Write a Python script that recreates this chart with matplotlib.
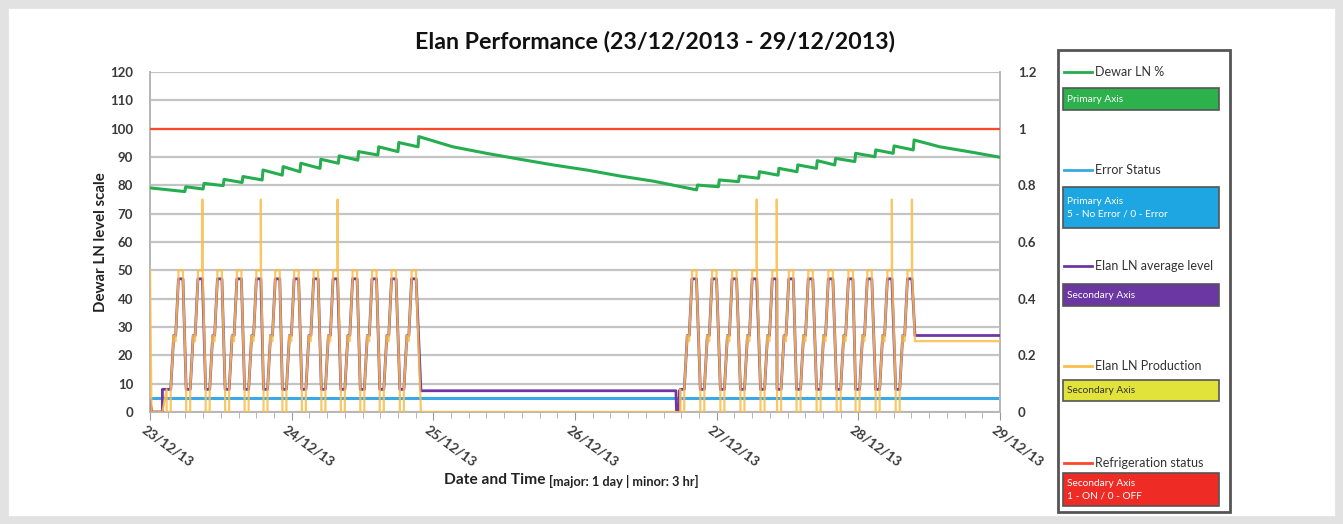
import matplotlib.pyplot as plt
import numpy as np
from matplotlib.patches import Rectangle
from matplotlib.lines import Line2D

W, H = 1343, 524
plt.rcParams['font.family'] = ['Lato', 'DejaVu Sans']

# x axis: hours since 23/12/13 00:00
day_labels = ['23/12/13', '24/12/13', '25/12/13', '26/12/13', '27/12/13', '28/12/13', '29/12/13']

# Elan LN cycles: hour at middle of each high plateau
peak_hours_run1 = [5.2, 8.5, 11.8, 15.1, 18.4, 21.6, 24.8, 28.1, 31.4, 34.7, 38.0, 41.3, 44.7]
peak_hours_run2 = [92.2, 95.6, 99.0, 102.4, 105.8, 108.6, 111.9, 115.3, 118.7, 121.9, 125.3, 128.7]
spike_peaks = [8.5, 18.4, 31.4, 102.4, 105.8, 125.3, 128.7]
avg_levels = [0.08, 0.27, 0.47]     # low, mid, high (secondary axis)
prod_levels = [0.0, 0.25, 0.5]
spike_level = 0.75
idle_avg_level = 0.075
end_avg_level = 0.27
end_prod_level = 0.25

# Dewar LN % sawtooth: jump hours, value before jump, value after jump
jump_h1 = [5.9, 9.0, 12.4, 15.6, 19.0, 22.4, 25.4, 28.8, 31.9, 35.2, 38.6, 42.0, 45.4]
bottom1 = [77.8, 78.7, 79.9, 81.0, 81.9, 83.6, 84.8, 86.0, 87.8, 88.9, 90.7, 91.9, 93.6]
top1 = [79.5, 80.7, 82.1, 83.1, 85.4, 86.6, 87.8, 89.2, 90.4, 91.9, 93.6, 95.1, 97.2]
decline1_h = [51.3, 57.0, 62.7, 68.3, 74.0, 79.6, 85.2]
decline1_v = [93.6, 91.3, 89.2, 87.2, 85.4, 83.3, 81.5]
jump_h2 = [92.6, 96.3, 99.7, 103.1, 106.4, 109.6, 112.9, 116.0, 119.4, 122.8, 125.9, 129.3]
bottom2 = [78.4, 79.5, 81.3, 82.5, 83.6, 84.8, 86.0, 87.2, 88.4, 90.1, 91.3, 92.5]
top2 = [80.1, 81.9, 83.3, 84.8, 86.0, 87.2, 88.7, 89.5, 91.3, 92.5, 93.9, 96.0]
decline2_h = [133.8, 139.5, 144.0]
decline2_v = [93.6, 91.6, 89.9]
dewar_start = 79.1

error_status = 5       # primary axis
refrig_status = 1      # secondary axis

GREEN = '#25ad4f'
BLUE = '#3ba8e8'
PURPLE = '#7035a5'
ORANGE = '#fbbd4a'
RED = '#fb4a2a'
GRID = '#c4c4c4'
TXT = '#3a3a3a'

# plateau offsets (hours) relative to the peak middle
OFF = [(-2.37, -1.69), (-1.18, -0.85), (-0.38, 0.38)]


def build_cycles(peaks):
    at, av, pt, pv = [], [], [], []
    for tp in peaks:
        for (a, b), L, O in zip(OFF, avg_levels, prod_levels):
            at += [tp + a, tp + b]
            av += [L, L]
            pt += [tp + a, tp + a, tp + b, tp + b]
            pv += [L, O, O, L]
            if O == prod_levels[2] and tp in spike_peaks:
                pt[-1:] = [tp + b, tp + b + 0.03, tp + b + 0.06]
                pv[-1:] = [spike_level, prod_levels[2], L]
    return at, av, pt, pv


a1t, a1v, p1t, p1v = build_cycles(peak_hours_run1)
a2t, a2v, p2t, p2v = build_cycles(peak_hours_run2)

avg_t = [0, 0.3, 2.1, 2.1] + a1t + [45.9, 89.1, 89.2, 89.6, 89.7] + a2t + [129.6, 144]
avg_v = [0.04, 0.0, 0.0, 0.08] + a1v + [idle_avg_level, idle_avg_level, 0.0, 0.0, idle_avg_level] + a2v + [end_avg_level, end_avg_level]
prod_t = [0, 0.25, 2.1] + p1t + [45.9, 89.8] + p2t + [129.6, 144]
prod_v = [0.5, 0.0, 0.0] + p1v + [0.0, 0.0] + p2v + [end_prod_level, end_prod_level]

dew_t = [0]
dew_v = [dewar_start]
for h, b, t in zip(jump_h1, bottom1, top1):
    dew_t += [h, h + 0.15]
    dew_v += [b, t]
dew_t += decline1_h
dew_v += decline1_v
for h, b, t in zip(jump_h2, bottom2, top2):
    dew_t += [h, h + 0.15]
    dew_v += [b, t]
dew_t += decline2_h
dew_v += decline2_v

fig = plt.figure(figsize=(W / 100, H / 100), dpi=100)
fig.patch.set_facecolor('white')
fig.add_artist(Rectangle((0, 0), 1, 1, transform=fig.transFigure, fill=False,
                         edgecolor='#e2e2e2', lw=12))

ax = fig.add_axes([150 / W, 1 - 412 / H, 850 / W, 340 / H])
ax2 = ax.twinx()

ax.set_xlim(0, 144)
ax.set_ylim(0, 120)
ax2.set_ylim(0, 1.2)

ax.set_yticks(np.arange(0, 121, 10))
ax.yaxis.grid(True, color=GRID, lw=1.6)
ax.set_axisbelow(True)
ax2.set_yticks(np.arange(0, 1.21, 0.2))
ax2.set_yticklabels(['0', '0.2', '0.4', '0.6', '0.8', '1', '1.2'])

ax.set_xticks(np.arange(0, 145, 24))
ax.set_xticklabels([])
ax.set_xticks(np.arange(0, 145, 3), minor=True)
ax.tick_params(axis='x', which='major', length=6, color='#999999', direction='out')
ax.tick_params(axis='x', which='minor', length=4, color='#aaaaaa', direction='out')
ax.tick_params(axis='y', length=0, pad=12, labelsize=9.5, labelcolor=TXT)
ax2.tick_params(axis='y', length=0, pad=13, labelsize=9.5, labelcolor=TXT)
for lab in ax.get_yticklabels() + ax2.get_yticklabels():
    lab.set_fontweight('bold')

for a in (ax, ax2):
    for s in a.spines.values():
        s.set_color('#b8b8b8')
        s.set_linewidth(1.4)
    a.spines['top'].set_visible(False)

for h, lab in zip(np.arange(0, 145, 24), day_labels):
    ax.text(h - 0.6, -4, lab, rotation=-36, rotation_mode='anchor', ha='left', va='top',
            fontsize=9.8, fontweight='bold', color=TXT, clip_on=False)

ax.plot([0, 144], [error_status, error_status], color=BLUE, lw=2.2, zorder=3)
ax2.plot(avg_t, avg_v, color=PURPLE, lw=2.0, zorder=3)
ax2.plot(prod_t, prod_v, color=ORANGE, lw=1.6, alpha=0.85, zorder=4)
ax2.plot([0, 144], [refrig_status, refrig_status], color=RED, lw=1.6, zorder=4)
ax2.plot(np.array(dew_t), np.array(dew_v) / 100, color=GREEN, lw=2.2, zorder=5)

fig.text(655 / W, 1 - 42 / H, 'Elan Performance (23/12/2013 - 29/12/2013)', ha='center', va='center',
         fontsize=16.7, fontweight='bold', color='#111111')
fig.text(101 / W, 1 - 242 / H, 'Dewar LN level scale', rotation=90, ha='center', va='center',
         fontsize=10.8, fontweight='bold', color='#222222')
fig.text(545 / W, 1 - 480 / H, 'Date and Time', ha='right', va='center',
         fontsize=11.2, fontweight='bold', color='#222222')
fig.text(549 / W, 1 - 481 / H, '[major: 1 day | minor: 3 hr]', ha='left', va='center',
         fontsize=9.2, fontweight='bold', color='#222222')

# legend panel
fig.add_artist(Rectangle((1058 / W, 1 - 512 / H), 172 / W, 462 / H, transform=fig.transFigure,
                         fill=False, edgecolor='#555555', lw=2))

legend_items = [
    ('Dewar LN %', GREEN, 72, 88, 22, '#2cb14c', 'white', 'Primary Axis'),
    ('Error Status', BLUE, 170, 187, 41, '#1ea6e2', 'white', 'Primary Axis\n5 - No Error / 0 - Error'),
    ('Elan LN average level', PURPLE, 266, 284, 22, '#6a37a3', 'white', 'Secondary Axis'),
    ('Elan LN Production', ORANGE, 366, 380, 21, '#e1e33b', '#333333', 'Secondary Axis'),
    ('Refrigeration status', RED, 463, 473, 33, '#ee2b25', 'white', 'Secondary Axis\n1 - ON / 0 - OFF'),
]
for name, lc, ly, by, bh, bc, tc, btxt in legend_items:
    fig.add_artist(Line2D([1064 / W, 1092 / W], [1 - ly / H, 1 - ly / H], transform=fig.transFigure,
                          color=lc, lw=2))
    fig.text(1095 / W, 1 - ly / H, name, ha='left', va='center', fontsize=9, color='#333333')
    fig.add_artist(Rectangle((1063 / W, 1 - (by + bh) / H), 156 / W, bh / H, transform=fig.transFigure,
                             facecolor=bc, edgecolor='#555555', lw=1.2))
    fig.text(1067 / W, 1 - (by + bh / 2) / H, btxt, ha='left', va='center', fontsize=7.3,
             color=tc, linespacing=1.5)

fig.savefig('out.png', dpi=100)
